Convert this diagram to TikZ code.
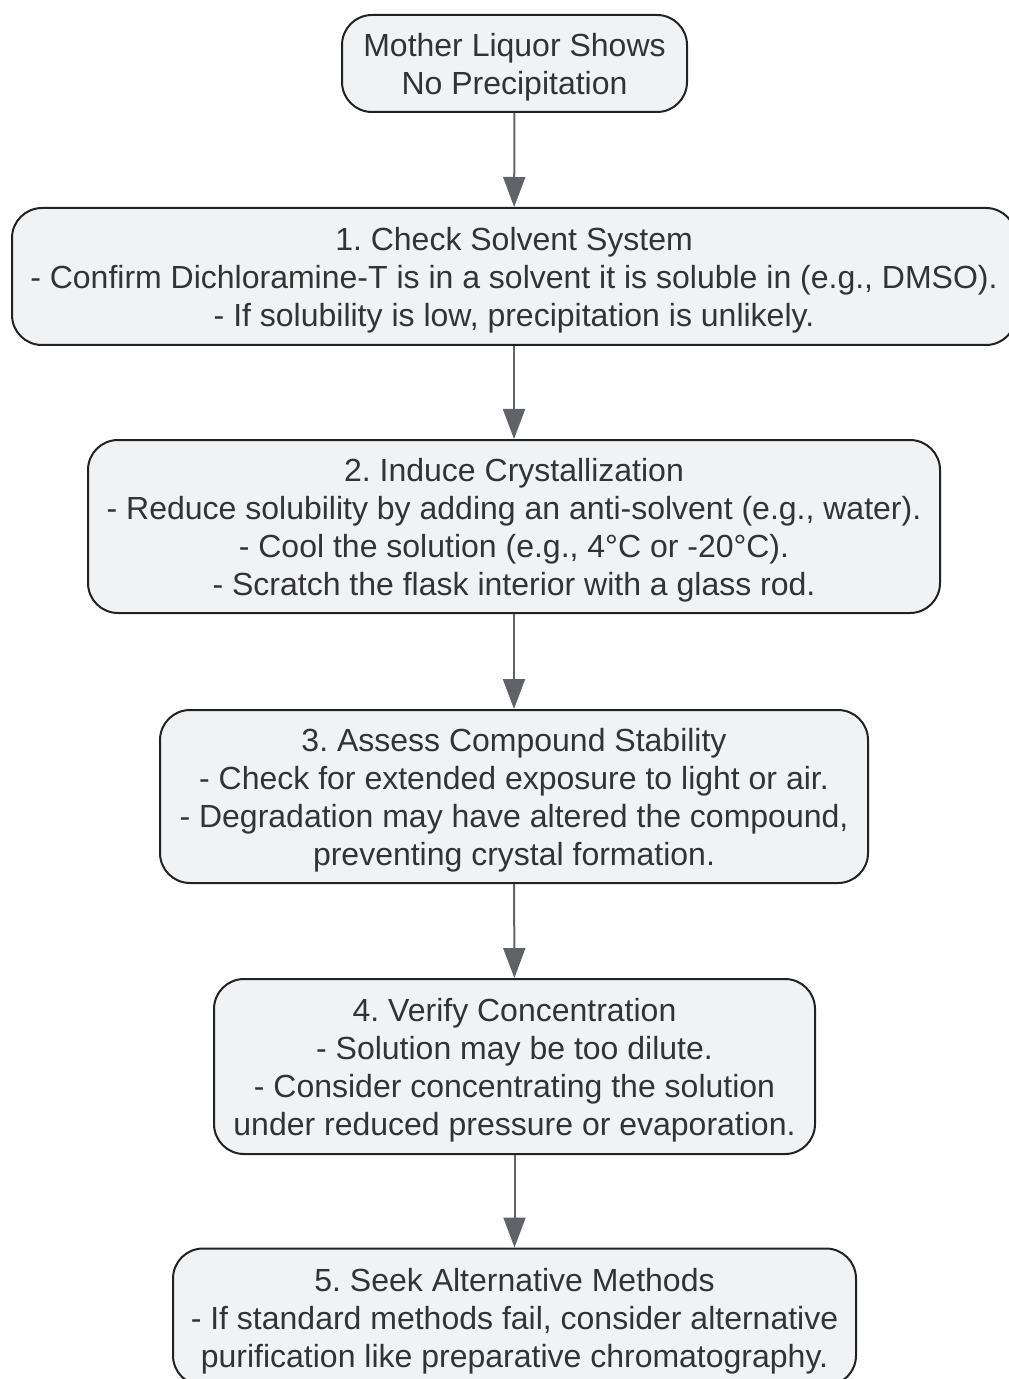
\documentclass[tikz,border=0pt]{standalone}
\usepackage{fontspec}
\setmainfont{Liberation Sans}
\usetikzlibrary{arrows.meta}
\definecolor{boxfill}{HTML}{F1F2F4}
\definecolor{boxline}{HTML}{222222}
\definecolor{arrowgray}{HTML}{5F6368}
\definecolor{textdark}{HTML}{333333}
\frenchspacing
\newcommand{\topgap}{\rule{0pt}{15.5pt}}

\begin{document}
\begin{tikzpicture}
[x=0.5pt, y=-0.5pt,
 >={Triangle[width=11pt,length=15pt]},
 every node/.style={font=\fontsize{16pt}{19pt}\selectfont, text=textdark},
 stepbox/.style={draw=boxline, line width=1pt, fill=boxfill,
 rounded corners=15pt, align=center, inner sep=0pt},
 flow/.style={->, draw=arrowgray, line width=1pt}
]
\useasboundingbox (0,0) rectangle (1008,1379);

\node[stepbox, minimum width=172.5pt, minimum height=48.5pt] (start) at (514.5,63.5)
 {\topgap Mother Liquor Shows\\No Precipitation};
\node[stepbox, minimum width=502pt, minimum height=68.5pt] (solvent) at (514,276.5)
 {\topgap 1. Check Solvent System\\- Confirm Dichloramine-T is in a solvent it is soluble in (e.g., DMSO).\\- If solubility is low, precipitation is unlikely.};
\node[stepbox, minimum width=426pt, minimum height=86.5pt] (induce) at (514,526.5)
 {\topgap 2. Induce Crystallization\\- Reduce solubility by adding an anti-solvent (e.g., water).\\- Cool the solution (e.g., 4°C or -20°C).\\- Scratch the flask interior with a glass rod.};
\node[stepbox, minimum width=354pt, minimum height=86.5pt] (stability) at (514,796.5)
 {\topgap 3. Assess Compound Stability\\- Check for extended exposure to light or air.\\- Degradation may have altered the compound,\\preventing crystal formation.};
\node[stepbox, minimum width=300.5pt, minimum height=87.5pt] (concentration) at (514.5,1066.5)
 {\topgap 4. Verify Concentration\\- Solution may be too dilute.\\- Consider concentrating the solution\\under reduced pressure or evaporation.};
\node[stepbox, minimum width=341.5pt, minimum height=68.5pt] (alternative) at (514.5,1317)
 {\topgap 5. Seek Alternative Methods\\- If standard methods fail, consider alternative\\purification like preparative chromatography.};

\draw[flow] (start) -- (solvent);
\draw[flow] (solvent) -- (induce);
\draw[flow] (induce) -- (stability);
\draw[flow] (stability) -- (concentration);
\draw[flow] (concentration) -- (alternative);
\end{tikzpicture}
\end{document}
